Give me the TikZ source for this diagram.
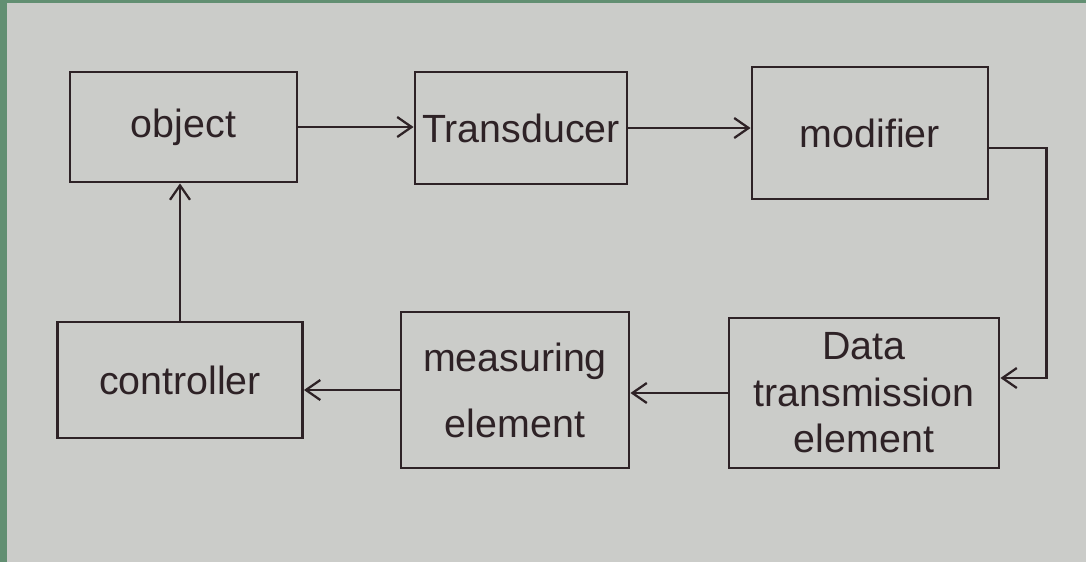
\documentclass[tikz,border=0pt]{standalone}
\usepackage{fontspec}
\setmainfont{Liberation Sans}
\usetikzlibrary{arrows.meta,calc}
\definecolor{PenInk}{HTML}{2E2226}
\definecolor{PaperGrey}{HTML}{CBCCC9}
\definecolor{DeskGreen}{HTML}{628F72}
\tikzset{
  every node/.style={text=PenInk},
  block/.style={draw=PenInk, line width=2pt, inner sep=0pt, align=center,
    font=\fontsize{28}{33}\selectfont},
  flow/.style={-{Straight Barb[length=3.6mm,width=5mm,line width=1.6pt]}, draw=PenInk, line width=1.9pt},
}
\begin{document}
\begin{tikzpicture}[x=0.025cm,y=-0.025cm]
  % Sheet and desk edge
  \fill[PaperGrey] (0,0) rectangle (1086,562);
  \fill[DeskGreen] (0,0) rectangle (1086,3);
  \fill[DeskGreen] (0,0) rectangle (7,562);
  \useasboundingbox (0,0) rectangle (1086,562);
  % Blocks, top row
  \node[block, minimum width=5.675cm, minimum height=2.75cm] (obj) at (183.5,127) {object};
  \node[block, minimum width=5.3cm, minimum height=2.8cm] (trans) at (521,128) {Transducer};
  \node[block, minimum width=5.9cm, minimum height=3.3cm] (modif) at (870,133) {modifier};
  % Blocks, bottom row
  \node[block, minimum width=6.125cm, minimum height=2.9cm] (ctrl) at (180,380) {controller};
  \node[block, minimum width=5.7cm, minimum height=3.9cm] (meas) at (515,390) {measuring\\[0.5em]element};
  \node[block, minimum width=6.75cm, minimum height=3.75cm] (data) at (864,393) {Data\\transmission\\element};
  % Signal path
  \draw[flow] (obj.east) -- (obj.east -| trans.west);
  \draw[flow] (trans.east) -- (trans.east -| modif.west);
  \coordinate (modout) at ($(modif.east)+(0,15)$);
  \coordinate (datain) at ($(data.east)+(0,-15)$);
  \draw[flow] (modout) -- ++(57,0) |- (datain);
  \draw[flow] (data.west) -- (data.west -| meas.east);
  \draw[flow] (meas.west) -- (meas.west -| ctrl.east);
  \draw[flow] (ctrl.north) -- (ctrl.north |- obj.south);
\end{tikzpicture}
\end{document}
